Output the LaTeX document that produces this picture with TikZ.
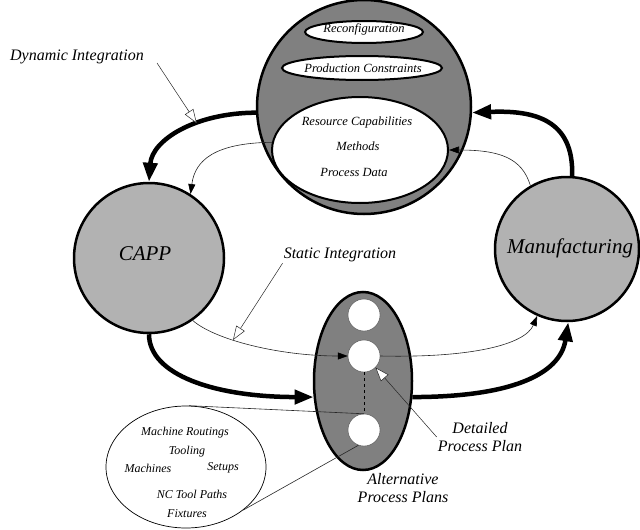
\documentclass[tikz,border=0pt]{standalone}
\usepackage{fontspec}
\setmainfont{Liberation Serif}
\usetikzlibrary{arrows.meta,shapes.geometric}
\begin{document}
\begin{tikzpicture}[x=1pt,y=-1pt,
  bigarrow/.style={line width=4.5pt,-{Triangle[length=19pt,width=14pt]}},
  thinarrow/.style={line width=0.6pt,draw=black!85,-{Triangle[length=10pt,width=7pt,color=black]}},
  pointer/.style={line width=0.5pt,draw=black!85,-{Triangle[open,length=14pt,width=10pt,fill=white]}},
  callout/.style={line width=0.6pt,draw=black!85},
  blob/.style={circle,draw,line width=2.5pt,inner sep=0pt},
  innerell/.style={ellipse,draw,line width=2pt,fill=white,inner sep=0pt},
  slot/.style={circle,draw=black!70,line width=0.4pt,fill=white,minimum size=32pt,inner sep=0pt},
  small/.style={font=\fontsize{12.5}{15}\selectfont\itshape,inner sep=1pt},
  tiny/.style={font=\fontsize{12}{14}\selectfont\itshape,inner sep=1pt},
  lbl/.style={font=\fontsize{16}{18.5}\selectfont\itshape,inner sep=1pt},
  big/.style={font=\fontsize{21}{24}\selectfont\itshape,inner sep=0pt}
]
\useasboundingbox (0,0) rectangle (640,530);

% shared knowledge sphere with its three layers
\node[blob,fill=black!50,minimum size=214pt] (sphere) at (364,107) {};
\node[innerell,minimum width=118pt,minimum height=22pt] (reconf) at (364,32) {};
\node[innerell,minimum width=160pt,minimum height=24pt] (prodc) at (362,68) {};
\node[innerell,minimum width=176pt,minimum height=106pt] (inner) at (360,150) {};
\node[small] (treconf) at (364,29) {Reconfiguration};
\node[small] (tprodc) at (363,68) {Production Constraints};
\node[small] (tres) at (357,122) {Resource Capabilities};
\node[small] (tmeth) at (358,146) {Methods};
\node[small] (tpdata) at (354,172) {Process Data};

% the two main activities
\node[blob,fill=black!30,minimum size=150pt] (capp) at (149,258) {};
\node[big] (tcapp) at (145,254) {CAPP};
\node[blob,fill=black!30,minimum size=144pt] (mfg) at (567,249) {};
\node[big] (tmfg) at (570,248) {Manufacturing};

% process plan container with its alternatives
\node[ellipse,draw,line width=2.5pt,fill=black!50,minimum width=98pt,minimum height=178pt,inner sep=0pt] (oval) at (363,381) {};
\node[slot] (c1) at (364,315) {};
\node[slot] (c2) at (364,356) {};
\node[slot] (c3) at (364,430) {};
\draw[dashed,line width=0.6pt] (c2.south) -- (c3.north);

% plan contents
\node[ellipse,draw,line width=0.7pt,fill=white,minimum width=160pt,minimum height=122pt,inner sep=0pt] (bl) at (186,467) {};
\node[tiny] (tmr) at (185,433) {Machine Routings};
\node[tiny] (ttool) at (187,452) {Tooling};
\node[tiny] (tmach) at (148,468) {Machines};
\node[tiny] (tset) at (223,468) {Setups};
\node[tiny] (tnc) at (192,494) {NC Tool Paths};
\node[tiny] (tfix) at (187,514) {Fixtures};
\draw[callout] (bl.87) -- (c3.north);
\draw[callout] (bl.-37) -- (c3.-110);

% dynamic integration loop
\draw[bigarrow] (sphere.183) .. controls (195,113) and (152,140) .. coordinate[pos=0.37] (dyntip) (capp.90);
\draw[thinarrow] (inner.175) .. controls (215,143) and (195,160) .. (capp.57);
\draw[bigarrow] (mfg.86) .. controls (574,120) and (535,110) .. (sphere.-3);
\draw[thinarrow] (mfg.120) .. controls (522,158) and (500,150) .. (inner.0);

% static integration path
\draw[thinarrow] (capp.-55) .. controls (215,340) and (280,356) .. coordinate[pos=0.37] (stattip) (c2.west);
\draw[thinarrow] (c2.east) .. controls (470,358) and (525,345) .. (mfg.-114);
\draw[bigarrow] (capp.-90) .. controls (149,375) and (215,397) .. (oval.198);
\draw[bigarrow] (oval.-18) .. controls (510,397) and (560,375) .. (mfg.-89);

% labels with their pointers
\node[lbl] (dyn) at (77,57) {Dynamic Integration};
\coordinate (dynfoot) at (157,63);
\draw[pointer] (dynfoot) -- (dyntip);
\node[lbl] (stat) at (340,255) {Static Integration};
\draw[pointer] (stat.south west) -- (stattip);
\node[lbl,align=center] (det) at (480,437) {Detailed\\Process Plan};
\draw[pointer] (det.west) -- (c2.-45);
\node[lbl,align=center] (alt) at (403,488) {Alternative\\Process Plans};
\end{tikzpicture}
\end{document}
